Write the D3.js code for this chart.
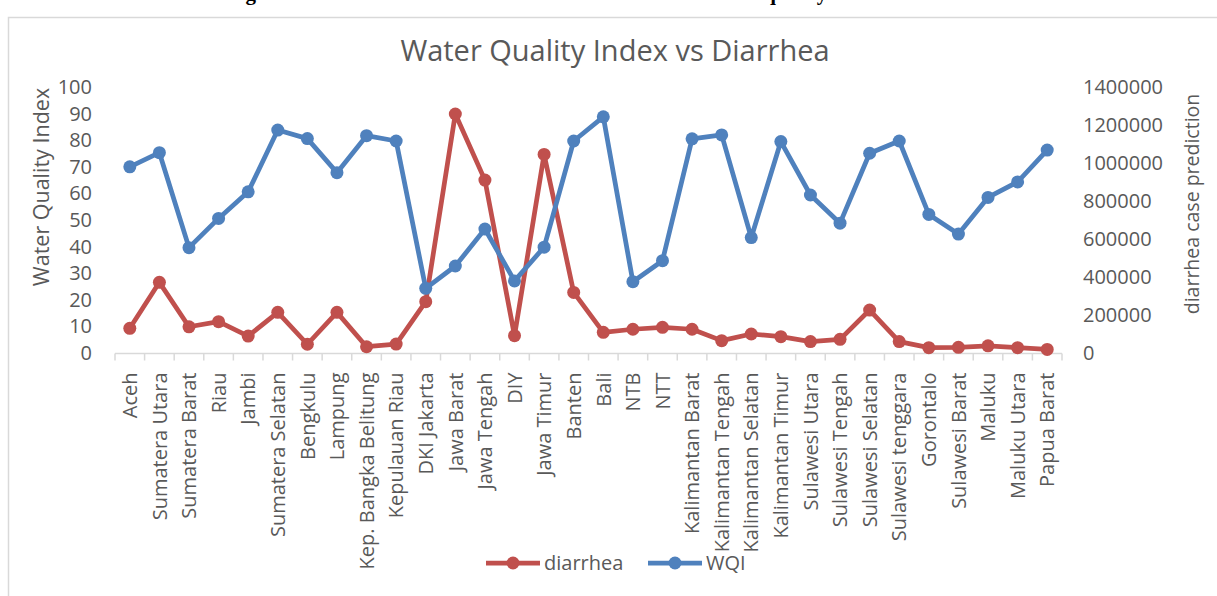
<!DOCTYPE html>
<html>
<head>
<meta charset="utf-8">
<script src="https://cdn.jsdelivr.net/npm/d3@7"></script>
<style>
  html, body { margin: 0; padding: 0; background: #fff; }
  svg { display: block; }
  text { font-family: "Open Sans", sans-serif; fill: #595959; }
</style>
</head>
<body>
<svg id="chart" width="1217" height="596"></svg>
<script>
const categories = ["Aceh","Sumatera Utara","Sumatera Barat","Riau","Jambi","Sumatera Selatan","Bengkulu","Lampung","Kep. Bangka Belitung","Kepulauan Riau","DKI Jakarta","Jawa Barat","Jawa Tengah","DIY","Jawa Timur","Banten","Bali","NTB","NTT","Kalimantan Barat","Kalimantan Tengah","Kalimantan Selatan","Kalimantan Timur","Sulawesi Utara","Sulawesi Tengah","Sulawesi Selatan","Sulawesi tenggara","Gorontalo","Sulawesi Barat","Maluku","Maluku Utara","Papua Barat"];
const wqi = [70.0, 75.3, 39.6, 50.6, 60.6, 83.8, 80.6, 67.8, 81.7, 79.7, 24.3, 32.7, 46.6, 27.1, 39.8, 79.7, 88.8, 26.8, 34.7, 80.5, 82.0, 43.4, 79.5, 59.4, 48.8, 75.1, 79.7, 52.1, 44.7, 58.5, 64.3, 76.3];
const diarrhea = [130000, 372000, 138000, 165000, 89000, 214000, 46000, 214000, 33000, 47000, 270000, 1258000, 910000, 91000, 1045000, 319000, 109000, 125000, 135000, 125000, 65000, 100000, 86000, 60000, 72000, 226000, 60000, 28000, 30000, 38000, 28000, 19000];
const leftTicks = [0,10,20,30,40,50,60,70,80,90,100];
const rightTicks = [0,200000,400000,600000,800000,1000000,1200000,1400000];
const seriesNames = ["diarrhea", "WQI"];
const titleText = "Water Quality Index vs Diarrhea";
const leftTitle = "Water Quality Index";
const rightTitle = "diarrhea case prediction";
const captionText = "Figure 3. The correlation between diarrhea cases and water quality index in Indonesia";

const RED = "#C0504D", BLUE = "#4F81BD", GRID = "#d9d9d9";
const svg = d3.select("#chart");

// top caption (cut off by the page edge, as in the reference)
svg.append("text").attr("x", 612).attr("y", 0).attr("text-anchor", "middle")
  .style("font-family", "'Liberation Serif', serif").style("font-weight", "bold")
  .style("font-size", "21px").style("fill", "#000").text(captionText);

// chart frame
svg.append("rect").attr("x", 8.5).attr("y", 17.5).attr("width", 1400).attr("height", 800)
  .attr("fill", "#fff").attr("stroke", GRID).attr("stroke-width", 1.5);

const x = d3.scaleBand().domain(categories).range([115, 1062]);
const yL = d3.scaleLinear().domain([0, 100]).range([353, 87]);
const yR = d3.scaleLinear().domain([0, 1400000]).range([353, 87]);

// title
svg.append("text").attr("x", 615).attr("y", 61).attr("text-anchor", "middle")
  .style("font-size", "29px").text(titleText);

// left axis
const gL = svg.append("g").attr("transform", "translate(92,0)")
  .call(d3.axisLeft(yL).tickValues(leftTicks).tickSize(0).tickPadding(0));
gL.select(".domain").remove();
gL.selectAll("text").style("font-size", "20px").style("font-family", "'Open Sans', sans-serif").attr("fill", "#595959");

// right axis
const gR = svg.append("g").attr("transform", "translate(1083,0)")
  .call(d3.axisRight(yR).tickValues(rightTicks).tickSize(0).tickPadding(0).tickFormat(d3.format("d")));
gR.select(".domain").remove();
gR.selectAll("text").style("font-size", "20px").style("font-family", "'Open Sans', sans-serif").attr("fill", "#595959");

// x axis
const gX = svg.append("g").attr("transform", "translate(0,353.5)");
gX.append("line").attr("x1", 115).attr("x2", 1062).attr("stroke", GRID).attr("stroke-width", 1.5);
const bounds = categories.map(c => x(c)).concat([x(categories[categories.length-1]) + x.bandwidth()]);
gX.selectAll("line.tk").data(bounds).join("line").attr("class", "tk")
  .attr("x1", d => d).attr("x2", d => d).attr("y1", 0).attr("y2", 7)
  .attr("stroke", GRID).attr("stroke-width", 1.5);
gX.selectAll("text.cat").data(categories).join("text").attr("class", "cat")
  .attr("transform", d => `translate(${x(d) + x.bandwidth()/2},19) rotate(-90)`)
  .attr("text-anchor", "end").attr("dy", "0.36em")
  .style("font-size", "20px").text(d => d);

// axis titles
svg.append("text").attr("transform", "translate(41,187) rotate(-90)")
  .attr("text-anchor", "middle").attr("dy", "0.36em").style("font-size", "21.5px").text(leftTitle);
svg.append("text").attr("transform", "translate(1192,204) rotate(-90)")
  .attr("text-anchor", "middle").attr("dy", "0.36em").style("font-size", "19.5px").text(rightTitle);

const cx = (d, i) => x(categories[i]) + x.bandwidth()/2;

// diarrhea series (right axis)
const lineR = d3.line().x((d, i) => cx(d, i)).y(d => yR(d));
svg.append("path").datum(diarrhea).attr("d", lineR).attr("fill", "none")
  .attr("stroke", RED).attr("stroke-width", 4.75).attr("stroke-linejoin", "round");
svg.selectAll("circle.r").data(diarrhea).join("circle").attr("class", "r")
  .attr("cx", (d, i) => cx(d, i)).attr("cy", d => yR(d)).attr("r", 6.5).attr("fill", RED);

// WQI series (left axis)
const lineL = d3.line().x((d, i) => cx(d, i)).y(d => yL(d));
svg.append("path").datum(wqi).attr("d", lineL).attr("fill", "none")
  .attr("stroke", BLUE).attr("stroke-width", 4.75).attr("stroke-linejoin", "round");
svg.selectAll("circle.b").data(wqi).join("circle").attr("class", "b")
  .attr("cx", (d, i) => cx(d, i)).attr("cy", d => yL(d)).attr("r", 6.5).attr("fill", BLUE);

// legend
const legend = [
  { name: seriesNames[0], color: RED, x0: 486 },
  { name: seriesNames[1], color: BLUE, x0: 648 }
];
const lg = svg.selectAll("g.lg").data(legend).join("g").attr("class", "lg")
  .attr("transform", d => `translate(${d.x0},563)`);
lg.append("line").attr("x1", 0).attr("x2", 54).attr("stroke", d => d.color).attr("stroke-width", 4.75);
lg.append("circle").attr("cx", 27).attr("r", 6.5).attr("fill", d => d.color);
lg.append("text").attr("x", 58).attr("dy", "0.36em").style("font-size", "20px").text(d => d.name);
</script>
</body>
</html>
